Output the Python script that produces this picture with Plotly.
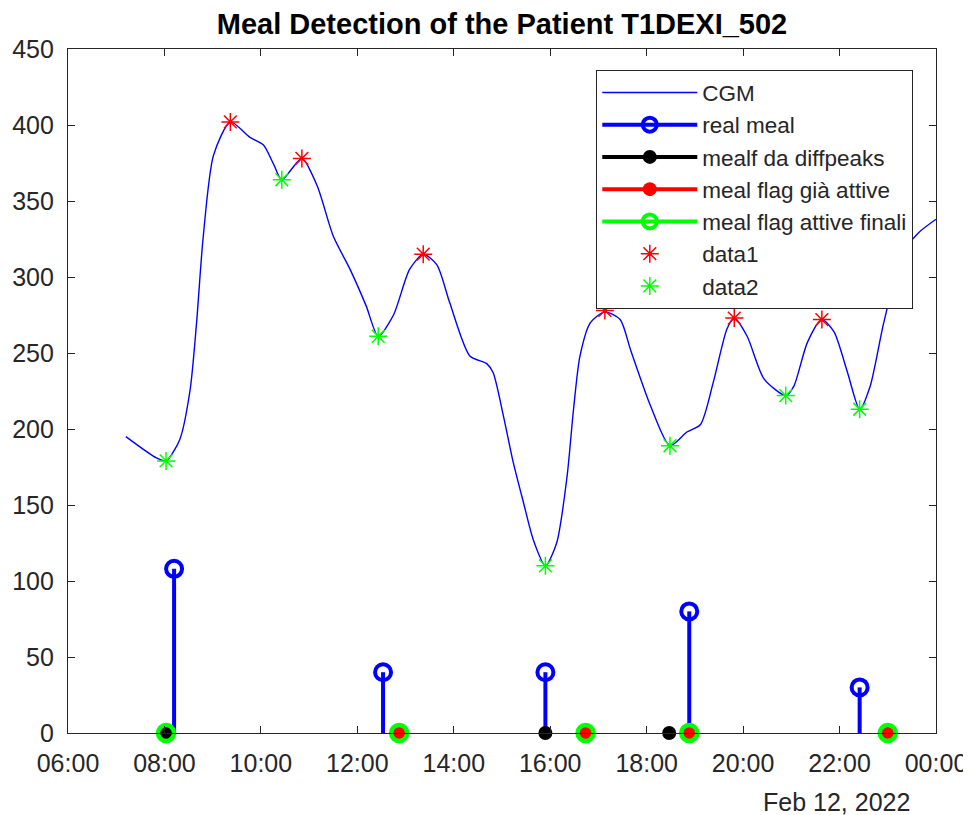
import pandas as pd
import plotly.graph_objects as go

# ---------------- data ----------------
DAY = "2022-02-12"

cgm_times = ["07:12", "07:50", "08:02", "08:19", "08:32", "08:40", "08:48", "09:01", "09:22", "09:46",
             "10:03", "10:16", "10:26", "10:51", "11:10", "11:30", "11:51", "12:11", "12:26", "12:45",
             "13:05", "13:22", "13:39", "13:55", "14:20", "14:41", "14:49", "15:02", "15:14", "15:27",
             "15:39", "15:54", "16:08", "16:21", "16:29", "16:37", "16:50", "17:08", "17:27", "17:40",
             "18:05", "18:29", "18:50", "19:07", "19:23", "19:40", "19:49", "20:05", "20:26", "20:53",
             "21:03", "21:20", "21:38", "21:53", "22:10", "22:25", "22:38", "22:55", "23:18", "23:38",
             "24:00"]
cgm_values = [195, 181, 179, 193, 226, 270, 325, 380, 402, 392,
              387, 374, 364, 378, 360, 327, 305, 281, 261, 275,
              305, 315, 308, 283, 248, 243, 237, 208, 178, 151,
              127, 110, 125, 169, 213, 248, 270, 277, 272, 252,
              215, 189, 198, 203, 231, 266, 273, 261, 233, 222,
              228, 257, 272, 264, 237, 213, 228, 270, 315, 329,
              338]

real_meal_times = ["08:12", "12:32", "15:54", "18:53", "22:25"]
real_meal_values = [108, 40, 40, 80, 30]

diffpeaks_times = ["08:02", "15:54", "18:28"]
diffpeaks_values = [0, 0, 0]

flag_active_times = ["12:52", "16:44", "18:53", "23:00"]
flag_active_values = [0, 0, 0, 0]

flag_final_times = ["08:02", "12:52", "16:44", "18:53", "23:00"]
flag_final_values = [0, 0, 0, 0, 0]

data1_times = ["09:22", "10:51", "13:22", "17:08", "19:49", "21:38"]
data1_values = [402, 378, 315, 278, 273, 272]

data2_times = ["08:02", "10:26", "12:26", "15:54", "18:29", "20:53", "22:25"]
data2_values = [179, 364, 261, 110, 189, 222, 213]

y_ticks = [0, 50, 100, 150, 200, 250, 300, 350, 400, 450]


def to_dt(hhmm):
    h, m = hhmm.split(":")
    return pd.Timestamp(DAY) + pd.Timedelta(hours=int(h), minutes=int(m))


def dts(lst):
    return [to_dt(t) for t in lst]


def stem_xy(times, values):
    xs, ys = [], []
    for t, v in zip(dts(times), values):
        xs += [t, t, None]
        ys += [0, v, None]
    return xs, ys


FONT = "Liberation Sans, Arial, sans-serif"
AX = "#262626"
BLUE = "rgb(0,0,255)"
RED = "rgb(255,0,0)"
GREEN = "rgb(0,255,0)"

fig = go.Figure()

# CGM curve
fig.add_trace(go.Scatter(x=dts(cgm_times), y=cgm_values, mode="lines", name="CGM",
                         line=dict(color=BLUE, width=1.4, shape="spline", smoothing=0.7),
                         legendrank=1))

# real meal stems
sx, sy = stem_xy(real_meal_times, real_meal_values)
fig.add_trace(go.Scatter(x=sx, y=sy, mode="lines", line=dict(color=BLUE, width=4),
                         showlegend=False, hoverinfo="skip"))
fig.add_trace(go.Scatter(x=dts(real_meal_times), y=real_meal_values, mode="markers",
                         marker=dict(symbol="circle-open", size=16, color=BLUE,
                                     line=dict(width=4, color=BLUE)),
                         showlegend=False))
fig.add_trace(go.Scatter(x=[None], y=[None], mode="lines+markers", name="real meal",
                         line=dict(color=BLUE, width=4),
                         marker=dict(symbol="circle-open", size=14, color=BLUE,
                                     line=dict(width=4, color=BLUE)),
                         legendrank=2))

# mealf da diffpeaks (black)
fig.add_trace(go.Scatter(x=dts(diffpeaks_times), y=diffpeaks_values, mode="markers",
                         marker=dict(symbol="circle", size=14, color="black"),
                         showlegend=False, cliponaxis=False))
fig.add_trace(go.Scatter(x=[None], y=[None], mode="lines+markers", name="mealf da diffpeaks",
                         line=dict(color="black", width=4),
                         marker=dict(symbol="circle", size=14, color="black"),
                         legendrank=3))

# meal flag già attive (red)
fig.add_trace(go.Scatter(x=dts(flag_active_times), y=flag_active_values, mode="markers",
                         marker=dict(symbol="circle", size=14, color=RED),
                         showlegend=False, cliponaxis=False))
fig.add_trace(go.Scatter(x=[None], y=[None], mode="lines+markers", name="meal flag già attive",
                         line=dict(color=RED, width=4),
                         marker=dict(symbol="circle", size=14, color=RED),
                         legendrank=4))

# meal flag attive finali (green)
fig.add_trace(go.Scatter(x=dts(flag_final_times), y=flag_final_values, mode="markers",
                         marker=dict(symbol="circle-open", size=16, color=GREEN,
                                     line=dict(width=4.5, color=GREEN)),
                         showlegend=False, cliponaxis=False))
fig.add_trace(go.Scatter(x=[None], y=[None], mode="lines+markers", name="meal flag attive finali",
                         line=dict(color=GREEN, width=4),
                         marker=dict(symbol="circle-open", size=14, color=GREEN,
                                     line=dict(width=4, color=GREEN)),
                         legendrank=5))

# peaks / valleys
fig.add_trace(go.Scatter(x=dts(data1_times), y=data1_values, mode="markers", name="data1",
                         marker=dict(symbol="asterisk-open", size=15, color=RED,
                                     line=dict(width=1.5, color=RED)),
                         legendrank=6))
fig.add_trace(go.Scatter(x=dts(data2_times), y=data2_values, mode="markers", name="data2",
                         marker=dict(symbol="asterisk-open", size=15, color=GREEN,
                                     line=dict(width=1.5, color=GREEN)),
                         legendrank=7))

# page offset compensation (body margin of the page)
OFF = 8
W, H = 971 - OFF, 815 - OFF
ml, mr, mt, mb = 68 - OFF, 35, 49 - OFF, 82
PW, PH = W - ml - mr, H - mt - mb
X0, Y0 = ml + OFF, H - mb + OFF  # plot origin in page pixels


def px_x(x):
    return (x - X0) / PW


def px_y(y):
    return (Y0 - y) / PH


fig.update_layout(
    width=W, height=H,
    margin=dict(l=ml, r=mr, t=mt, b=mb, pad=0, autoexpand=False),
    paper_bgcolor="white", plot_bgcolor="white",
    font=dict(family=FONT, size=25, color=AX),
    title=dict(text="<b>Meal Detection of the Patient T1DEXI_502</b>",
               x=0.5, xref="paper", xanchor="center",
               y=1 - (23.5 - OFF) / H, yref="container", yanchor="middle",
               font=dict(family=FONT, size=29, color="black")),
    showlegend=True,
    legend=dict(x=px_x(913), xanchor="right",
                y=px_y(70), yanchor="top",
                bgcolor="white", bordercolor=AX, borderwidth=1.3,
                font=dict(family=FONT, size=22.5, color=AX),
                tracegroupgap=0, itemwidth=95),
    xaxis=dict(
        range=[to_dt("06:00"), to_dt("24:00")],
        tick0=to_dt("06:00"), dtick=2 * 3600 * 1000,
        tickformat="%H:%M", automargin=False,
        showgrid=False, zeroline=False,
        showline=True, linecolor=AX, linewidth=1.3, mirror="ticks",
        ticks="inside", ticklen=7, tickcolor=AX, tickwidth=1.3,
        ticklabelstandoff=8,
        tickfont=dict(family=FONT, size=25, color=AX),
    ),
    yaxis=dict(
        range=[0, 450], tickvals=y_ticks, automargin=False,
        showgrid=False, zeroline=False,
        showline=True, linecolor=AX, linewidth=1.3, mirror="ticks",
        ticks="inside", ticklen=7, tickcolor=AX, tickwidth=1.3,
        ticklabelstandoff=8,
        tickfont=dict(family=FONT, size=25, color=AX),
    ),
)

fig.add_annotation(text="Feb 12, 2022", xref="paper", yref="paper",
                   x=px_x(912), xanchor="right",
                   y=px_y(801.7), yanchor="middle",
                   showarrow=False, font=dict(family=FONT, size=25, color=AX))

fig.write_html("out.html")
